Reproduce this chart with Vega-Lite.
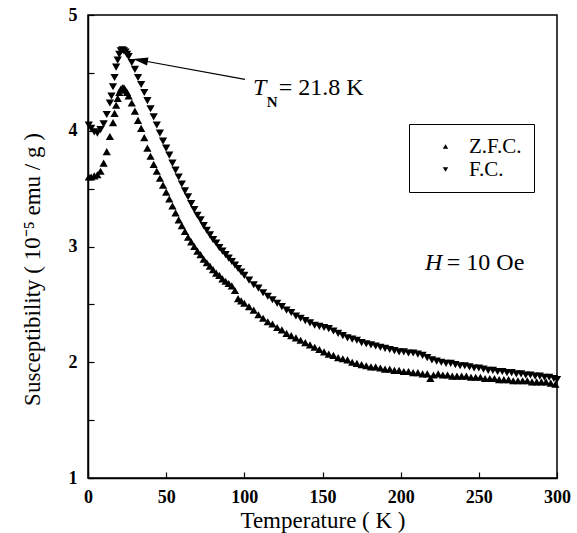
{
  "$schema": "https://vega.github.io/schema/vega-lite/v6.json",
  "autosize": {"type": "none"},
  "padding": {"left": 88, "top": 15, "right": 20, "bottom": 55},
  "width": 469,
  "height": 463,
  "background": "white",
  "config": {
    "view": {"stroke": "black", "strokeWidth": 1.5},
    "axis": {
      "domainColor": "black", "domainWidth": 1.5, "tickColor": "black", "tickWidth": 1.2,
      "grid": false, "labelFont": "Liberation Serif", "labelFontWeight": "bold", "labelFontSize": 18,
      "labelColor": "black", "titleFont": "Liberation Serif", "titleFontWeight": "normal",
      "titleFontSize": 23, "titleColor": "black", "tickSize": -6, "labelFlush": false
    },
    "legend": {
      "labelFont": "Liberation Serif", "labelFontSize": 21, "labelColor": "black"
    }
  },
  "datasets": {
    "pts": [
      {"run":"Z.F.C.","T":0.5,"chi":3.6},{"run":"Z.F.C.","T":2,"chi":3.6},{"run":"Z.F.C.","T":4,"chi":3.61},{"run":"Z.F.C.","T":6,"chi":3.62},{"run":"Z.F.C.","T":8,"chi":3.65},{"run":"Z.F.C.","T":10,"chi":3.72},{"run":"Z.F.C.","T":12,"chi":3.82},{"run":"Z.F.C.","T":14,"chi":3.95},{"run":"Z.F.C.","T":16,"chi":4.07},{"run":"Z.F.C.","T":17,"chi":4.15},{"run":"Z.F.C.","T":18,"chi":4.22},{"run":"Z.F.C.","T":19,"chi":4.28},{"run":"Z.F.C.","T":20,"chi":4.33},{"run":"Z.F.C.","T":21,"chi":4.36},{"run":"Z.F.C.","T":22,"chi":4.37},{"run":"Z.F.C.","T":23,"chi":4.37},{"run":"Z.F.C.","T":24,"chi":4.35},{"run":"Z.F.C.","T":25,"chi":4.33},{"run":"Z.F.C.","T":26,"chi":4.3},{"run":"Z.F.C.","T":28,"chi":4.24},{"run":"Z.F.C.","T":30,"chi":4.17},{"run":"Z.F.C.","T":32,"chi":4.09},{"run":"Z.F.C.","T":34,"chi":4.02},{"run":"Z.F.C.","T":36,"chi":3.94},{"run":"Z.F.C.","T":38,"chi":3.85},{"run":"Z.F.C.","T":40,"chi":3.78},{"run":"Z.F.C.","T":42,"chi":3.71},{"run":"Z.F.C.","T":44,"chi":3.65},{"run":"Z.F.C.","T":46,"chi":3.59},{"run":"Z.F.C.","T":48,"chi":3.53},{"run":"Z.F.C.","T":50,"chi":3.47},{"run":"Z.F.C.","T":52,"chi":3.41},{"run":"Z.F.C.","T":54,"chi":3.35},{"run":"Z.F.C.","T":56,"chi":3.29},{"run":"Z.F.C.","T":58,"chi":3.23},{"run":"Z.F.C.","T":60,"chi":3.18},{"run":"Z.F.C.","T":62,"chi":3.13},{"run":"Z.F.C.","T":64,"chi":3.08},{"run":"Z.F.C.","T":66,"chi":3.04},{"run":"Z.F.C.","T":68,"chi":3.0},{"run":"Z.F.C.","T":70,"chi":2.96},{"run":"Z.F.C.","T":72,"chi":2.93},{"run":"Z.F.C.","T":74,"chi":2.89},{"run":"Z.F.C.","T":76,"chi":2.86},{"run":"Z.F.C.","T":78,"chi":2.83},{"run":"Z.F.C.","T":80,"chi":2.8},{"run":"Z.F.C.","T":82,"chi":2.77},{"run":"Z.F.C.","T":84,"chi":2.75},{"run":"Z.F.C.","T":86,"chi":2.72},{"run":"Z.F.C.","T":88,"chi":2.7},{"run":"Z.F.C.","T":90,"chi":2.68},{"run":"Z.F.C.","T":92,"chi":2.66},{"run":"Z.F.C.","T":94,"chi":2.62},{"run":"Z.F.C.","T":96,"chi":2.55},{"run":"Z.F.C.","T":98,"chi":2.53},{"run":"Z.F.C.","T":100,"chi":2.51},{"run":"Z.F.C.","T":103,"chi":2.48},{"run":"Z.F.C.","T":106,"chi":2.45},{"run":"Z.F.C.","T":109,"chi":2.41},{"run":"Z.F.C.","T":112,"chi":2.38},{"run":"Z.F.C.","T":115,"chi":2.35},{"run":"Z.F.C.","T":118,"chi":2.33},{"run":"Z.F.C.","T":121,"chi":2.3},{"run":"Z.F.C.","T":124,"chi":2.28},{"run":"Z.F.C.","T":127,"chi":2.25},{"run":"Z.F.C.","T":130,"chi":2.23},{"run":"Z.F.C.","T":133,"chi":2.21},{"run":"Z.F.C.","T":136,"chi":2.19},{"run":"Z.F.C.","T":139,"chi":2.17},{"run":"Z.F.C.","T":142,"chi":2.15},{"run":"Z.F.C.","T":145,"chi":2.13},{"run":"Z.F.C.","T":148,"chi":2.11},{"run":"Z.F.C.","T":151,"chi":2.09},{"run":"Z.F.C.","T":154,"chi":2.07},{"run":"Z.F.C.","T":157,"chi":2.06},{"run":"Z.F.C.","T":160,"chi":2.04},{"run":"Z.F.C.","T":163,"chi":2.03},{"run":"Z.F.C.","T":166,"chi":2.02},{"run":"Z.F.C.","T":169,"chi":2.0},{"run":"Z.F.C.","T":172,"chi":1.99},{"run":"Z.F.C.","T":175,"chi":1.98},{"run":"Z.F.C.","T":178,"chi":1.97},{"run":"Z.F.C.","T":181,"chi":1.96},{"run":"Z.F.C.","T":184,"chi":1.96},{"run":"Z.F.C.","T":187,"chi":1.95},{"run":"Z.F.C.","T":190,"chi":1.94},{"run":"Z.F.C.","T":193,"chi":1.94},{"run":"Z.F.C.","T":196,"chi":1.93},{"run":"Z.F.C.","T":199,"chi":1.93},{"run":"Z.F.C.","T":202,"chi":1.92},{"run":"Z.F.C.","T":205,"chi":1.92},{"run":"Z.F.C.","T":208,"chi":1.91},{"run":"Z.F.C.","T":211,"chi":1.91},{"run":"Z.F.C.","T":214,"chi":1.9},{"run":"Z.F.C.","T":217,"chi":1.9},{"run":"Z.F.C.","T":219,"chi":1.86},{"run":"Z.F.C.","T":221,"chi":1.89},{"run":"Z.F.C.","T":224,"chi":1.9},{"run":"Z.F.C.","T":227,"chi":1.89},{"run":"Z.F.C.","T":230,"chi":1.89},{"run":"Z.F.C.","T":233,"chi":1.88},{"run":"Z.F.C.","T":236,"chi":1.88},{"run":"Z.F.C.","T":239,"chi":1.88},{"run":"Z.F.C.","T":242,"chi":1.88},{"run":"Z.F.C.","T":245,"chi":1.87},{"run":"Z.F.C.","T":248,"chi":1.87},{"run":"Z.F.C.","T":251,"chi":1.87},{"run":"Z.F.C.","T":254,"chi":1.86},{"run":"Z.F.C.","T":257,"chi":1.86},{"run":"Z.F.C.","T":260,"chi":1.86},{"run":"Z.F.C.","T":263,"chi":1.85},{"run":"Z.F.C.","T":266,"chi":1.85},{"run":"Z.F.C.","T":269,"chi":1.85},{"run":"Z.F.C.","T":272,"chi":1.84},{"run":"Z.F.C.","T":275,"chi":1.84},{"run":"Z.F.C.","T":278,"chi":1.84},{"run":"Z.F.C.","T":281,"chi":1.84},{"run":"Z.F.C.","T":284,"chi":1.83},{"run":"Z.F.C.","T":287,"chi":1.83},{"run":"Z.F.C.","T":290,"chi":1.83},{"run":"Z.F.C.","T":293,"chi":1.83},{"run":"Z.F.C.","T":296,"chi":1.82},{"run":"Z.F.C.","T":299,"chi":1.81},
      {"run":"F.C.","T":0.5,"chi":4.05},{"run":"F.C.","T":2,"chi":4.02},{"run":"F.C.","T":4,"chi":3.99},{"run":"F.C.","T":6,"chi":3.98},{"run":"F.C.","T":8,"chi":4.01},{"run":"F.C.","T":10,"chi":4.06},{"run":"F.C.","T":12,"chi":4.14},{"run":"F.C.","T":14,"chi":4.24},{"run":"F.C.","T":15,"chi":4.3},{"run":"F.C.","T":16,"chi":4.38},{"run":"F.C.","T":17,"chi":4.46},{"run":"F.C.","T":18,"chi":4.55},{"run":"F.C.","T":19,"chi":4.61},{"run":"F.C.","T":20,"chi":4.66},{"run":"F.C.","T":21,"chi":4.69},{"run":"F.C.","T":22,"chi":4.7},{"run":"F.C.","T":23,"chi":4.69},{"run":"F.C.","T":24,"chi":4.68},{"run":"F.C.","T":25,"chi":4.66},{"run":"F.C.","T":26,"chi":4.64},{"run":"F.C.","T":28,"chi":4.59},{"run":"F.C.","T":30,"chi":4.53},{"run":"F.C.","T":32,"chi":4.46},{"run":"F.C.","T":34,"chi":4.4},{"run":"F.C.","T":36,"chi":4.33},{"run":"F.C.","T":38,"chi":4.26},{"run":"F.C.","T":40,"chi":4.19},{"run":"F.C.","T":42,"chi":4.12},{"run":"F.C.","T":44,"chi":4.05},{"run":"F.C.","T":46,"chi":3.98},{"run":"F.C.","T":48,"chi":3.91},{"run":"F.C.","T":50,"chi":3.85},{"run":"F.C.","T":52,"chi":3.79},{"run":"F.C.","T":54,"chi":3.72},{"run":"F.C.","T":56,"chi":3.66},{"run":"F.C.","T":58,"chi":3.6},{"run":"F.C.","T":60,"chi":3.54},{"run":"F.C.","T":62,"chi":3.48},{"run":"F.C.","T":64,"chi":3.43},{"run":"F.C.","T":66,"chi":3.37},{"run":"F.C.","T":68,"chi":3.32},{"run":"F.C.","T":70,"chi":3.27},{"run":"F.C.","T":72,"chi":3.23},{"run":"F.C.","T":74,"chi":3.18},{"run":"F.C.","T":76,"chi":3.14},{"run":"F.C.","T":78,"chi":3.1},{"run":"F.C.","T":80,"chi":3.06},{"run":"F.C.","T":82,"chi":3.03},{"run":"F.C.","T":84,"chi":2.99},{"run":"F.C.","T":86,"chi":2.96},{"run":"F.C.","T":88,"chi":2.93},{"run":"F.C.","T":90,"chi":2.9},{"run":"F.C.","T":92,"chi":2.87},{"run":"F.C.","T":94,"chi":2.84},{"run":"F.C.","T":96,"chi":2.81},{"run":"F.C.","T":98,"chi":2.78},{"run":"F.C.","T":100,"chi":2.75},{"run":"F.C.","T":103,"chi":2.71},{"run":"F.C.","T":106,"chi":2.67},{"run":"F.C.","T":109,"chi":2.64},{"run":"F.C.","T":112,"chi":2.6},{"run":"F.C.","T":115,"chi":2.57},{"run":"F.C.","T":118,"chi":2.54},{"run":"F.C.","T":121,"chi":2.51},{"run":"F.C.","T":124,"chi":2.48},{"run":"F.C.","T":127,"chi":2.45},{"run":"F.C.","T":130,"chi":2.43},{"run":"F.C.","T":133,"chi":2.4},{"run":"F.C.","T":136,"chi":2.38},{"run":"F.C.","T":139,"chi":2.36},{"run":"F.C.","T":142,"chi":2.34},{"run":"F.C.","T":145,"chi":2.32},{"run":"F.C.","T":148,"chi":2.31},{"run":"F.C.","T":151,"chi":2.3},{"run":"F.C.","T":154,"chi":2.29},{"run":"F.C.","T":157,"chi":2.27},{"run":"F.C.","T":160,"chi":2.25},{"run":"F.C.","T":163,"chi":2.23},{"run":"F.C.","T":166,"chi":2.21},{"run":"F.C.","T":169,"chi":2.2},{"run":"F.C.","T":172,"chi":2.19},{"run":"F.C.","T":175,"chi":2.17},{"run":"F.C.","T":178,"chi":2.16},{"run":"F.C.","T":181,"chi":2.15},{"run":"F.C.","T":184,"chi":2.14},{"run":"F.C.","T":187,"chi":2.13},{"run":"F.C.","T":190,"chi":2.12},{"run":"F.C.","T":193,"chi":2.11},{"run":"F.C.","T":196,"chi":2.1},{"run":"F.C.","T":199,"chi":2.09},{"run":"F.C.","T":202,"chi":2.09},{"run":"F.C.","T":205,"chi":2.08},{"run":"F.C.","T":208,"chi":2.08},{"run":"F.C.","T":211,"chi":2.07},{"run":"F.C.","T":214,"chi":2.06},{"run":"F.C.","T":217,"chi":2.04},{"run":"F.C.","T":220,"chi":2.02},{"run":"F.C.","T":223,"chi":2.01},{"run":"F.C.","T":226,"chi":2.0},{"run":"F.C.","T":229,"chi":1.99},{"run":"F.C.","T":232,"chi":1.99},{"run":"F.C.","T":235,"chi":1.98},{"run":"F.C.","T":238,"chi":1.97},{"run":"F.C.","T":241,"chi":1.97},{"run":"F.C.","T":244,"chi":1.96},{"run":"F.C.","T":247,"chi":1.95},{"run":"F.C.","T":250,"chi":1.95},{"run":"F.C.","T":253,"chi":1.94},{"run":"F.C.","T":256,"chi":1.93},{"run":"F.C.","T":259,"chi":1.93},{"run":"F.C.","T":262,"chi":1.92},{"run":"F.C.","T":265,"chi":1.92},{"run":"F.C.","T":268,"chi":1.91},{"run":"F.C.","T":271,"chi":1.91},{"run":"F.C.","T":274,"chi":1.9},{"run":"F.C.","T":277,"chi":1.9},{"run":"F.C.","T":280,"chi":1.89},{"run":"F.C.","T":283,"chi":1.89},{"run":"F.C.","T":286,"chi":1.88},{"run":"F.C.","T":289,"chi":1.88},{"run":"F.C.","T":292,"chi":1.87},{"run":"F.C.","T":295,"chi":1.87},{"run":"F.C.","T":298,"chi":1.86},{"run":"F.C.","T":300,"chi":1.85}
    ],
    "italic": [
      {"T": 105.5, "chi": 4.309, "text": "T"},
      {"T": 215.6, "chi": 2.80, "text": "H"}
    ],
    "normal": [
      {"T": 122, "chi": 4.309, "text": "= 21.8 K"},
      {"T": 229.5, "chi": 2.80, "text": "= 10 Oe"}
    ],
    "sub": [
      {"T": 114.3, "chi": 4.205, "text": "N"}
    ],
    "arrow": [
      {"T": 33.5, "chi": 4.609, "T2": 100.4, "chi2": 4.444}
    ]
  },
  "layer": [
    {
      "data": {"name": "pts"},
      "mark": {"type": "point", "filled": true, "color": "black", "opacity": 1, "size": 68},
      "encoding": {
        "x": {"field": "T", "type": "quantitative",
              "scale": {"domain": [0, 300], "nice": false},
              "axis": {"values": [0, 50, 100, 150, 200, 250, 300], "title": "Temperature ( K )", "labelPadding": 16, "titlePadding": 3}},
        "y": {"field": "chi", "type": "quantitative",
              "scale": {"domain": [1, 5], "nice": false, "zero": false},
              "axis": {"values": [1, 1.5, 2, 2.5, 3, 3.5, 4, 4.5, 5], "labelExpr": "datum.value % 1 === 0 ? format(datum.value, 'd') : ''",
                       "title": "Susceptibility ( 10⁻⁵ emu / g )", "labelPadding": 17, "titlePadding": 24, "titleY": 254}},
        "shape": {"field": "run", "type": "nominal",
                  "scale": {"domain": ["Z.F.C.", "F.C."], "range": ["triangle-up", "triangle-down"]},
                  "legend": {"title": null, "orient": "none", "legendX": 321, "legendY": 109,
                             "strokeColor": "black", "fillColor": "white",
                             "padding": 12, "symbolSize": 30, "symbolFillColor": "black", "symbolStrokeColor": "black",
                             "symbolOffset": 14, "labelOffset": 13, "rowPadding": 1,
                             "encode": {"legend": {"update": {"strokeWidth": {"value": 1.5}}}}}}
      }
    },
    {
      "data": {"name": "arrow"},
      "mark": {"type": "rule", "color": "black", "strokeWidth": 1.2},
      "encoding": {
        "x": {"field": "T", "type": "quantitative"},
        "y": {"field": "chi", "type": "quantitative"},
        "x2": {"field": "T2"},
        "y2": {"field": "chi2"}
      }
    },
    {
      "data": {"name": "arrow"},
      "mark": {"type": "point", "filled": true, "color": "black", "opacity": 1, "size": 225, "angle": 10,
               "shape": "M-1,0L1,-0.55L1,0.55Z"},
      "encoding": {
        "x": {"field": "T", "type": "quantitative"},
        "y": {"field": "chi", "type": "quantitative"}
      }
    },
    {
      "data": {"name": "italic"},
      "mark": {"type": "text", "align": "left", "baseline": "alphabetic", "font": "Liberation Serif", "fontSize": 24, "fontStyle": "italic", "color": "black"},
      "encoding": {
        "x": {"field": "T", "type": "quantitative"},
        "y": {"field": "chi", "type": "quantitative"},
        "text": {"field": "text"}
      }
    },
    {
      "data": {"name": "normal"},
      "mark": {"type": "text", "align": "left", "baseline": "alphabetic", "font": "Liberation Serif", "fontSize": 24, "color": "black"},
      "encoding": {
        "x": {"field": "T", "type": "quantitative"},
        "y": {"field": "chi", "type": "quantitative"},
        "text": {"field": "text"}
      }
    },
    {
      "data": {"name": "sub"},
      "mark": {"type": "text", "align": "left", "baseline": "alphabetic", "font": "Liberation Serif", "fontSize": 15, "fontWeight": "bold", "color": "black"},
      "encoding": {
        "x": {"field": "T", "type": "quantitative"},
        "y": {"field": "chi", "type": "quantitative"},
        "text": {"field": "text"}
      }
    }
  ]
}
